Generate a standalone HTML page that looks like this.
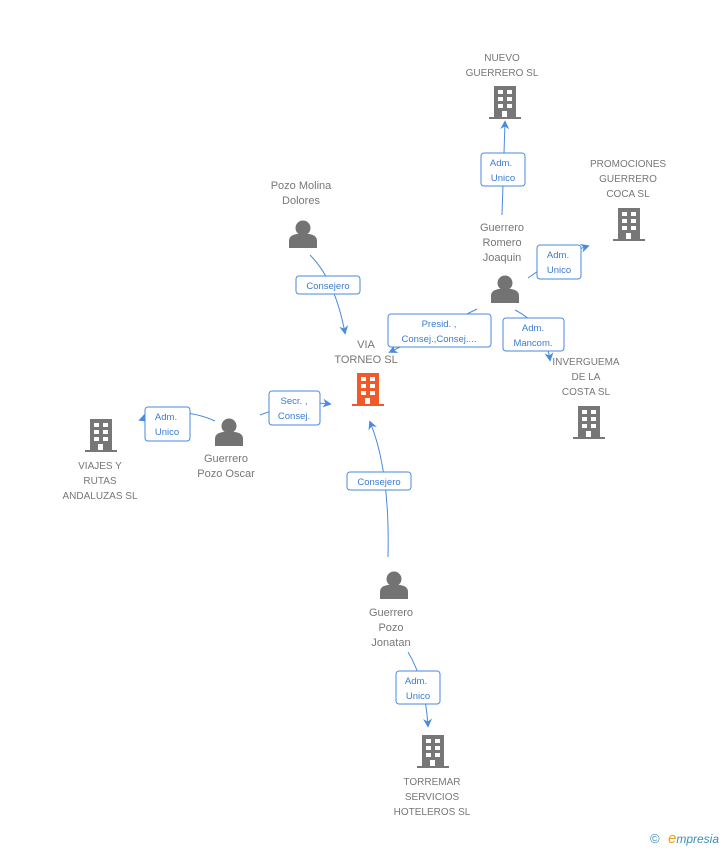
<!DOCTYPE html>
<html><head><meta charset="utf-8"><style>
body{margin:0;background:#fff;}
svg{display:block;font-family:"Liberation Sans",Arial,sans-serif;}
.t{fill:#777;font-size:11px;text-anchor:middle;}
.l{fill:#3a7bd5;font-size:9.5px;text-anchor:middle;}
.b{fill:#fff;stroke:#4a8ae0;stroke-width:1;}
.e{fill:none;stroke:#4a8ae0;stroke-width:1;}
</style></head><body>
<svg width="728" height="850" viewBox="0 0 728 850">
<defs>
<g id="bld"><rect x="-11" y="-17" width="22" height="32" /><rect x="-16" y="14" width="32" height="2"/>
<g fill="#fff"><rect x="-7" y="-13" width="5" height="4"/><rect x="2" y="-13" width="5" height="4"/><rect x="-7" y="-6" width="5" height="4"/><rect x="2" y="-6" width="5" height="4"/><rect x="-7" y="1" width="5" height="4"/><rect x="2" y="1" width="5" height="4"/><rect x="-3" y="8" width="5" height="6"/></g></g>
<g id="per" fill="#737373"><circle cx="0" cy="-6" r="7.5"/><path d="M-14 14 L-14 7 Q-14 1 -6 0 L6 0 Q14 1 14 7 L14 14 Z"/></g>
<marker id="a" viewBox="0 0 10 10" refX="8" refY="5" markerWidth="9" markerHeight="9" orient="auto"><path d="M0 0 L10 5 L0 10 L3 5Z" fill="#4a8ae0"/></marker>
</defs>
<path class="e" d="M310 255 Q335 280 345 333" marker-end="url(#a)"/>
<path class="e" d="M477 309 L390 352" marker-end="url(#a)"/>
<path class="e" d="M515 310 Q545 325 550 360" marker-end="url(#a)"/>
<path class="e" d="M528 278 Q560 255 588 246" marker-end="url(#a)"/>
<path class="e" d="M502 215 L505 122" marker-end="url(#a)"/>
<path class="e" d="M260 415 Q300 400 330 404" marker-end="url(#a)"/>
<path class="e" d="M215 421 Q180 405 140 420" marker-end="url(#a)"/>
<path class="e" d="M388 557 Q390 470 370 422" marker-end="url(#a)"/>
<path class="e" d="M408 652 Q425 680 428 726" marker-end="url(#a)"/>
<rect class="b" x="296" y="276" width="64" height="18" rx="3"/><text class="l" x="328" y="289">Consejero</text>
<rect class="b" x="388" y="314" width="103" height="33" rx="3"/><text class="l" x="439" y="327">Presid. ,</text><text class="l" x="439" y="342">Consej.,Consej....</text>
<rect class="b" x="503" y="318" width="61" height="33" rx="3"/><text class="l" x="533" y="331">Adm.</text><text class="l" x="533" y="346">Mancom.</text>
<rect class="b" x="537" y="245" width="44" height="34" rx="3"/><text class="l" x="558" y="258">Adm.</text><text class="l" x="559" y="273">Unico</text>
<rect class="b" x="481" y="153" width="44" height="33" rx="3"/><text class="l" x="501" y="166">Adm.</text><text class="l" x="503" y="181">Unico</text>
<rect class="b" x="269" y="391" width="51" height="34" rx="3"/><text class="l" x="294" y="404">Secr. ,</text><text class="l" x="294" y="419">Consej.</text>
<rect class="b" x="145" y="407" width="45" height="34" rx="3"/><text class="l" x="166" y="420">Adm.</text><text class="l" x="167" y="435">Unico</text>
<rect class="b" x="347" y="472" width="64" height="18" rx="3"/><text class="l" x="379" y="485">Consejero</text>
<rect class="b" x="396" y="671" width="44" height="33" rx="3"/><text class="l" x="416" y="684">Adm.</text><text class="l" x="418" y="699">Unico</text>
<use href="#bld" x="505" y="103" fill="#777"/>
<text class="t" x="502" y="61" style="font-size:10px">NUEVO</text><text class="t" x="502" y="76" style="font-size:10px">GUERRERO SL</text>
<use href="#bld" x="629" y="225" fill="#777"/>
<text class="t" x="628" y="167" style="font-size:10px">PROMOCIONES</text><text class="t" x="628" y="182" style="font-size:10px">GUERRERO</text><text class="t" x="628" y="197" style="font-size:10px">COCA SL</text>
<use href="#bld" x="589" y="423" fill="#777"/>
<text class="t" x="586" y="365" style="font-size:10px">INVERGUEMA</text><text class="t" x="586" y="380" style="font-size:10px">DE LA</text><text class="t" x="586" y="395" style="font-size:10px">COSTA SL</text>
<use href="#bld" x="101" y="436" fill="#777"/>
<text class="t" x="100" y="469" style="font-size:10px">VIAJES Y</text><text class="t" x="100" y="484" style="font-size:10px">RUTAS</text><text class="t" x="100" y="499" style="font-size:10px">ANDALUZAS SL</text>
<use href="#bld" x="433" y="752" fill="#777"/>
<text class="t" x="432" y="785" style="font-size:10px">TORREMAR</text><text class="t" x="432" y="800" style="font-size:10px">SERVICIOS</text><text class="t" x="432" y="815" style="font-size:10px">HOTELEROS SL</text>
<use href="#bld" x="368" y="390" fill="#f05a28"/>
<text class="t" x="366" y="348">VIA</text><text class="t" x="366" y="363">TORNEO SL</text>
<use href="#per" x="303" y="234"/>
<text class="t" x="301" y="189">Pozo Molina</text><text class="t" x="301" y="204">Dolores</text>
<use href="#per" x="505" y="289"/>
<text class="t" x="502" y="231">Guerrero</text><text class="t" x="502" y="246">Romero</text><text class="t" x="502" y="261">Joaquin</text>
<use href="#per" x="229" y="432"/>
<text class="t" x="226" y="462">Guerrero</text><text class="t" x="226" y="477">Pozo Oscar</text>
<use href="#per" x="394" y="585"/>
<text class="t" x="391" y="616">Guerrero</text><text class="t" x="391" y="631">Pozo</text><text class="t" x="391" y="646">Jonatan</text>
<text x="650" y="843" style="font-size:13px;fill:#3a8fb7">©</text>
<text x="668" y="843" style="font-size:12px;fill:#3a8fb7;font-style:italic"><tspan fill="#f0a020" font-size="15">e</tspan>mpresia</text>
</svg>
</body></html>
